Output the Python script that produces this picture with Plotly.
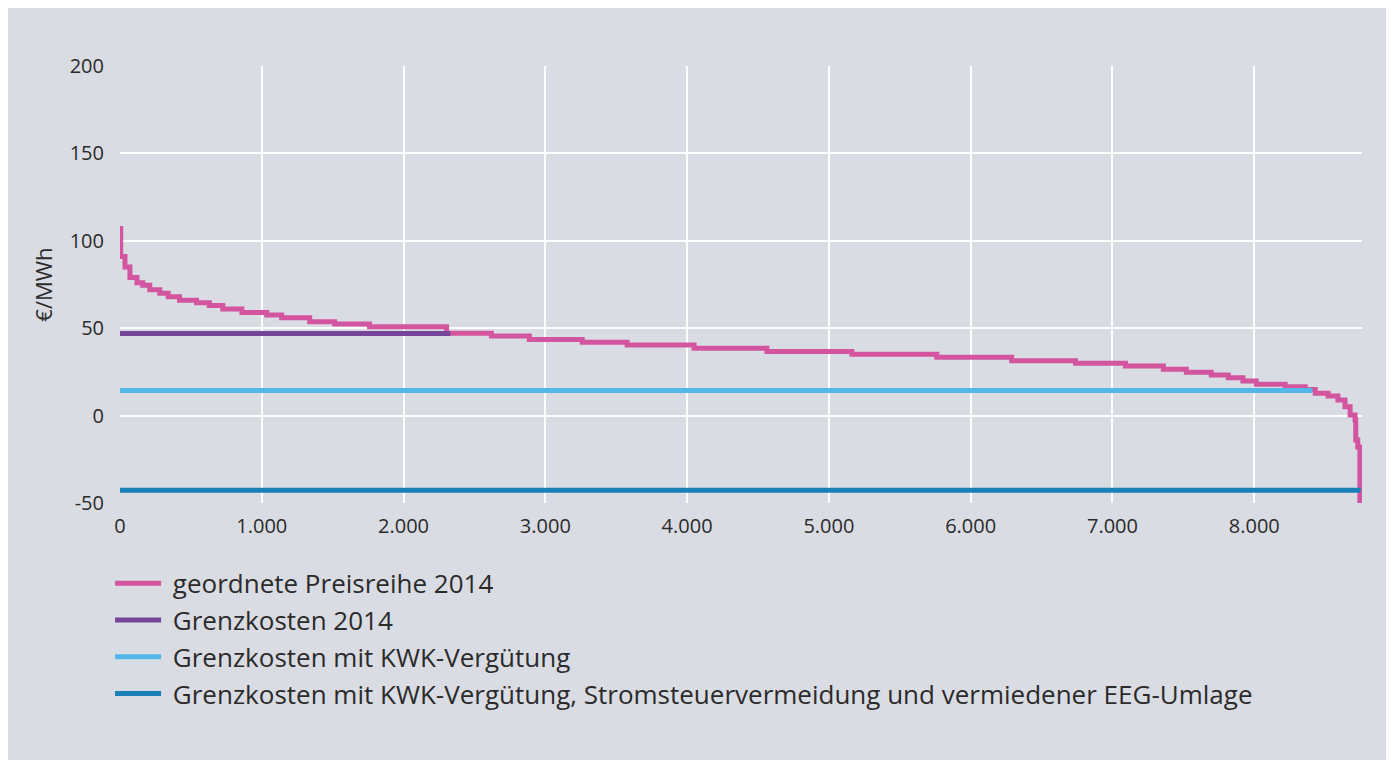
import plotly.graph_objects as go

# geordnete Preisreihe 2014 (Stunden, EUR/MWh)
hours = [0, 5, 35, 70, 120, 160, 210, 280, 340, 420, 540, 630, 725, 860, 1035,
         1140, 1338, 1514, 1760, 2303, 2620, 2887, 3260, 3577, 4049, 4563, 5162,
         5761, 6289, 6739, 7092, 7359, 7521, 7697, 7817, 7920, 8014, 8218, 8359,
         8430, 8521, 8590, 8640, 8676, 8711, 8716, 8730, 8745, 8760]
prices = [107, 91, 85, 79, 76, 74.5, 72, 70, 68, 66, 64.5, 63, 61, 59, 57.5,
          56, 53.7, 52.4, 50.9, 47.1, 45.5, 43.6, 41.9, 40.4, 38.5, 36.6, 35.1,
          33.4, 31.4, 29.9, 28.4, 26.5, 24.8, 23.2, 21.6, 19.8, 17.9, 16.5, 15.0,
          12.8, 11.2, 8.9, 5.1, 0.3, -2.5, -14, -18, -50, -55]

# Grenzkosten-Linien (Start/Ende in Stunden, Wert EUR/MWh)
gk_2014_x = [0, 2330]
gk_2014_y = [47, 47]
gk_kwk_x = [0, 8410]
gk_kwk_y = [14.3, 14.3]
gk_eeg_x = [0, 8750]
gk_eeg_y = [-42.7, -42.7]

x_ticks = [0, 1000, 2000, 3000, 4000, 5000, 6000, 7000, 8000]
x_labels = ['0', '1.000', '2.000', '3.000', '4.000', '5.000', '6.000', '7.000', '8.000']
y_ticks = [-50, 0, 50, 100, 150, 200]
y_labels = ['-50', '0', '50', '100', '150', '200']

names = [
    'geordnete Preisreihe 2014',
    'Grenzkosten 2014',
    'Grenzkosten mit KWK-Vergütung',
    'Grenzkosten mit KWK-Vergütung, Stromsteuervermeidung und vermiedener EEG-Umlage',
]
colors = ['#d3559f', '#774598', '#53b7e8', '#1a80b6']

BG = '#d9dce3'
FONT = 'Open Sans, Noto Sans, sans-serif'
PAD = '\u00a0'  # etwas Abstand zwischen Legendenlinie und Text

fig = go.Figure()

fig.add_trace(go.Scatter(
    x=hours, y=prices, name=PAD + names[0], mode='lines',
    line=dict(color=colors[0], width=5, shape='hv'),
    legendgroup='a'
))
fig.add_trace(go.Scatter(
    x=gk_2014_x, y=gk_2014_y, name=PAD + names[1], mode='lines',
    line=dict(color=colors[1], width=5), legendgroup='b'
))
fig.add_trace(go.Scatter(
    x=gk_kwk_x, y=gk_kwk_y, name=PAD + names[2], mode='lines',
    line=dict(color=colors[2], width=5), legendgroup='c'
))
fig.add_trace(go.Scatter(
    x=gk_eeg_x, y=gk_eeg_y, name=PAD + names[3], mode='lines',
    line=dict(color=colors[3], width=5), legendgroup='d'
))

# Seite hat 8px Rand oben/links; Figur laeuft rechts/unten bis zum Fensterrand
fig.update_layout(
    width=1394, height=760,
    margin=dict(l=112, r=40, t=58, b=265),
    paper_bgcolor=BG,
    plot_bgcolor=BG,
    font=dict(family=FONT, color='#2b2b2b', size=20),
    showlegend=True,
    legend=dict(
        x=-0.008, y=-0.13, xanchor='left', yanchor='top',
        orientation='v', bgcolor='rgba(0,0,0,0)',
        font=dict(size=26, color='#2b2b2b'),
        tracegroupgap=0, itemwidth=46,
    ),
    xaxis=dict(
        range=[0, 8760], tickvals=x_ticks, ticktext=x_labels,
        showgrid=True, gridcolor='white', gridwidth=2,
        zeroline=False, showline=False, ticks='',
        tickfont=dict(size=20), ticklabelstandoff=9,
    ),
    yaxis=dict(
        range=[-50, 200], tickvals=y_ticks, ticktext=y_labels,
        showgrid=True, gridcolor='white', gridwidth=2,
        zeroline=False, showline=False, ticks='',
        tickfont=dict(size=20), ticklabelstandoff=15,
        title=dict(text='€/MWh', font=dict(size=22), standoff=10),
    ),
)

fig.write_html("out.html")
